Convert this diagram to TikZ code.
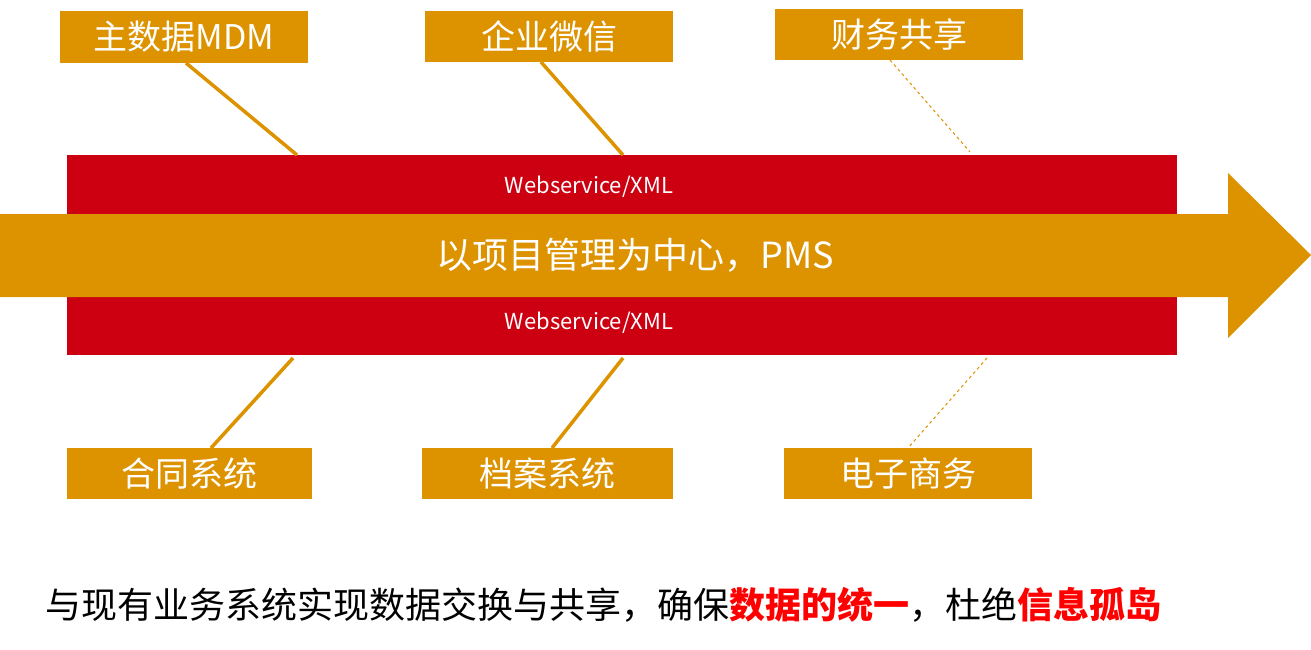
\documentclass[tikz,border=0pt]{standalone}
\usepackage{fontspec}
\setmainfont{Noto Sans CJK SC}
\begin{document}
\begin{tikzpicture}[x=1pt,y=-1pt,
  box/.style={fill=orn,text=white,inner sep=0pt,font=\fontsize{34}{36}\selectfont},
  conn/.style={draw=orn,line width=3.5pt},
  dconn/.style={draw=orn,line width=1pt,dash pattern=on 3pt off 3pt},
  ws/.style={text=white,font=\fontsize{22}{24}\selectfont}]
\definecolor{orn}{HTML}{DD9200}
\definecolor{rd}{HTML}{CC0011}
\useasboundingbox (0,0) rectangle (1311,650);
\fill[rd] (67,155) rectangle (1177,214);
\fill[rd] (67,297) rectangle (1177,355);
\fill[orn] (0,214) -- (1228,214) -- (1228,173) -- (1311,255) -- (1228,338) -- (1228,297) -- (0,297) -- cycle;
\node[ws] (w1) at (589,187) {Webservice/XML};
\node[ws] (w2) at (589,323) {Webservice/XML};
\node[text=white,font=\fontsize{36}{38}\selectfont] (pms) at (635,255) {以项目管理为中心，PMS};
\node[box,minimum width=248,minimum height=52] (b1) at (184,37) {主数据MDM};
\node[box,minimum width=248,minimum height=51] (b2) at (549,36.5) {企业微信};
\node[box,minimum width=248,minimum height=51] (b3) at (899,34.5) {财务共享};
\node[box,minimum width=245,minimum height=51] (b4) at (189.5,473.5) {合同系统};
\node[box,minimum width=251,minimum height=51] (b5) at (547.5,473.5) {档案系统};
\node[box,minimum width=248,minimum height=51] (b6) at (908,473.5) {电子商务};
\coordinate (t1) at (297,155); \coordinate (t2) at (623,155); \coordinate (t3) at (970,152);
\coordinate (u1) at (293,358); \coordinate (u2) at (623,358); \coordinate (u3) at (987,358);
\draw[conn] (186,63) -- (t1);
\draw[conn] (541,62) -- (t2);
\draw[dconn] (890,60) -- (t3);
\draw[conn] (u1) -- (211,448);
\draw[conn] (u2) -- (552,448);
\draw[dconn] (u3) -- (908,448);
\node[anchor=west,inner sep=0pt,font=\fontsize{36}{38}\selectfont] (cap) at (45,605) {与现有业务系统实现数据交换与共享，确保\textcolor{red}{\textbf{数据的统一}}，杜绝\textcolor{red}{\textbf{信息孤岛}}};
\end{tikzpicture}
\end{document}
